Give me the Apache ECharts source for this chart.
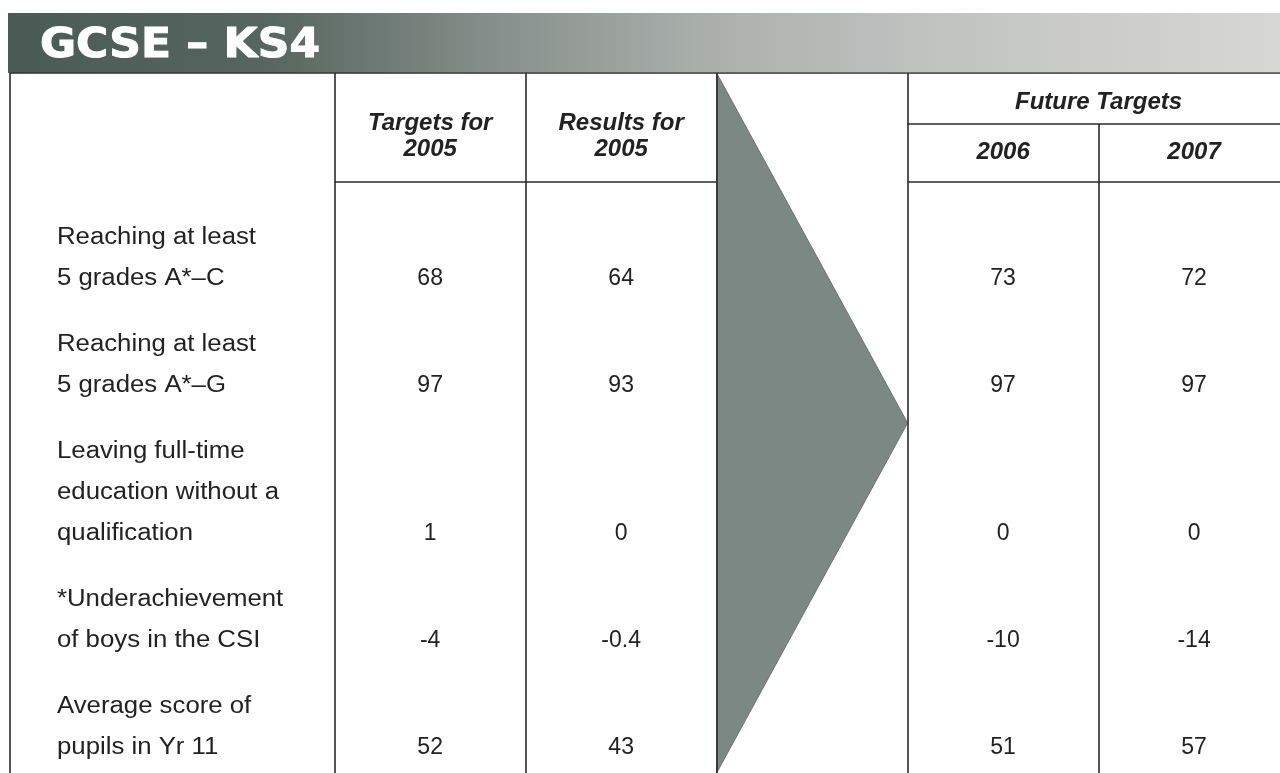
<!DOCTYPE html>
<html>
<head>
<meta charset="utf-8">
<title>GCSE – KS4</title>
<script src="https://cdn.jsdelivr.net/npm/echarts@6/dist/echarts.min.js"></script>
<style>
    html, body { margin: 0; padding: 0; background: #fff; }
    #chart { width: 1280px; height: 773px; }
</style>
</head>
<body>
<div id="chart"></div>
<script>
// --- table content ---
const title = 'GCSE – KS4';
const rowLabels = [
    ['Reaching at least', '5 grades A*–C'],
    ['Reaching at least', '5 grades A*–G'],
    ['Leaving full-time', 'education without a', 'qualification'],
    ['*Underachievement', 'of boys in the CSI'],
    ['Average score of', 'pupils in Yr 11']
];
const columnHeaders = [['Targets for', '2005'], ['Results for', '2005']];
const futureHeader = 'Future Targets';
const futureYears = ['2006', '2007'];
const targets2005 = [68, 97, 1, -4, 52];
const results2005 = [64, 93, 0, -0.4, 43];
const targets2006 = [73, 97, 0, -10, 51];
const targets2007 = [72, 97, 0, -14, 57];

// --- layout: x in column units, y in px below the table top ---
const COL = {t05: 1.7, r05: 2.7, arrow: 3.7, f06: 4.7, f07: 5.7, end: 6.7};
const X_MAX = 6.65;
const Y_MAX = 700;
const HEAD_H = 109;      // header bottom rule
const SUB_H = 51;        // rule under "Future Targets"
const FIRST_LINE = 165;
const PITCH = 41;
const ROW_GAP = 25;
const LABEL_X = 0.246;

const FONT = '"Liberation Sans", Arial, Helvetica, sans-serif';
const INK = '#222';

// y of every text line of each row
const lineY = [];
let cursor = FIRST_LINE;
rowLabels.forEach(lines => {
    lineY.push(lines.map((_, k) => cursor + k * PITCH));
    cursor += lines.length * PITCH + ROW_GAP;
});
const valueY = lineY.map(ys => ys[ys.length - 1]);

// flattened label lines
const labelLines = [];
const labelPos = [];
rowLabels.forEach((lines, r) => {
    lines.forEach((t, k) => {
        labelLines.push(t);
        labelPos.push([LABEL_X, lineY[r][k]]);
    });
});

// header texts
const headTexts = [];
const headPos = [];
columnHeaders.forEach((lines, i) => {
    const cx = [COL.t05, COL.r05][i] + 0.5;
    headTexts.push(lines[0], lines[1]);
    headPos.push([cx, 50], [cx, 76]);
});
headTexts.push(futureHeader);
headPos.push([(COL.f06 + COL.end) / 2, 29]);
futureYears.forEach((t, i) => {
    headTexts.push(t);
    headPos.push([[COL.f06, COL.f07][i] + 0.5, 79]);
});

function valueSeries(name, colStart, values) {
    return {
        name: name,
        type: 'custom',
        silent: true,
        data: values.map((v, i) => [colStart + 0.5, valueY[i], v]),
        renderItem: (params, api) => {
            const p = api.coord([api.value(0), api.value(1)]);
            return {
                type: 'text',
                x: p[0],
                y: p[1],
                style: {
                    text: String(values[params.dataIndex]),
                    font: '23px ' + FONT,
                    fill: INK,
                    align: 'center',
                    verticalAlign: 'middle'
                }
            };
        }
    };
}

// table rules
const rules = [
    [[0, 0], [COL.end, 0]],
    [[0, 0], [0, Y_MAX]],
    [[COL.t05, 0], [COL.t05, Y_MAX]],
    [[COL.r05, 0], [COL.r05, Y_MAX]],
    [[COL.arrow, 0], [COL.arrow, Y_MAX]],
    [[COL.f06, 0], [COL.f06, Y_MAX]],
    [[COL.f07, SUB_H], [COL.f07, Y_MAX]],
    [[COL.t05, HEAD_H], [COL.arrow, HEAD_H]],
    [[COL.f06, HEAD_H], [COL.end, HEAD_H]],
    [[COL.f06, SUB_H], [COL.end, SUB_H]]
];

const chart = echarts.init(document.getElementById('chart'));
const option = {
    backgroundColor: '#fff',
    animation: false,
    grid: {left: 10, right: 0, top: 73, bottom: 0},
    xAxis: {type: 'value', min: 0, max: X_MAX, show: false},
    yAxis: {type: 'value', min: 0, max: Y_MAX, inverse: true, show: false},
    graphic: [{
        type: 'rect',
        x: 8,
        y: 13,
        shape: {width: 1272, height: 60},
        style: {
            fill: new echarts.graphic.LinearGradient(0, 0, 1, 0, [
                {offset: 0, color: '#4a5a54'},
                {offset: 0.2, color: '#56655f'},
                {offset: 0.4, color: '#8a938f'},
                {offset: 0.55, color: '#abb0ad'},
                {offset: 0.75, color: '#c3c5c3'},
                {offset: 1, color: '#d7d7d5'}
            ])
        },
        z: 1
    }, {
        type: 'text',
        x: 40,
        y: 47,
        scaleX: 1.1,
        style: {
            text: title,
            font: 'bold 40px "DejaVu Sans", sans-serif',
            fill: '#fff',
            stroke: '#fff',
            lineWidth: 1,
            verticalAlign: 'middle'
        },
        z: 2
    }],
    series: [{
        // the grey arrow between results and future targets
        name: 'arrow',
        type: 'custom',
        silent: true,
        z: 1,
        data: [[COL.arrow, 0]],
        renderItem: (params, api) => {
            const a = api.coord([COL.arrow, 0]);
            const b = api.coord([COL.f06, Y_MAX / 2]);
            const c = api.coord([COL.arrow, Y_MAX]);
            return {
                type: 'polygon',
                shape: {points: [a, b, c]},
                style: {fill: '#7b8884', stroke: '#6a7672', lineWidth: 1}
            };
        }
    }, {
        name: 'rules',
        type: 'lines',
        coordinateSystem: 'cartesian2d',
        silent: true,
        z: 3,
        lineStyle: {color: '#2a2a2a', width: 1.6, opacity: 1},
        data: rules.map(r => ({coords: r}))
    }, {
        name: 'headers',
        type: 'custom',
        silent: true,
        data: headPos,
        renderItem: (params, api) => {
            const p = api.coord([api.value(0), api.value(1)]);
            return {
                type: 'text',
                x: p[0],
                y: p[1],
                style: {
                    text: headTexts[params.dataIndex],
                    font: 'italic bold 24px ' + FONT,
                    fill: INK,
                    align: 'center',
                    verticalAlign: 'middle'
                }
            };
        }
    }, {
        name: 'labels',
        type: 'custom',
        silent: true,
        data: labelPos,
        renderItem: (params, api) => {
            const p = api.coord([api.value(0), api.value(1)]);
            return {
                type: 'text',
                x: p[0],
                y: p[1],
                scaleX: 1.12,
                style: {
                    text: labelLines[params.dataIndex],
                    font: '23px ' + FONT,
                    fill: INK,
                    align: 'left',
                    verticalAlign: 'middle'
                }
            };
        }
    },
        valueSeries('Targets for 2005', COL.t05, targets2005),
        valueSeries('Results for 2005', COL.r05, results2005),
        valueSeries('2006', COL.f06, targets2006),
        valueSeries('2007', COL.f07, targets2007)
    ]
};
chart.setOption(option);
</script>
</body>
</html>
